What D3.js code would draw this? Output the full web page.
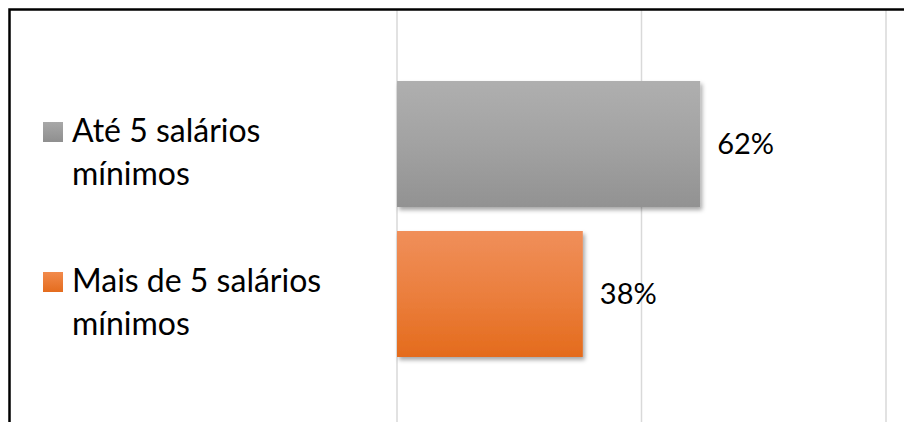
<!DOCTYPE html>
<html>
<head>
<meta charset="utf-8">
<script src="https://cdn.jsdelivr.net/npm/d3@7"></script>
<style>
  body { margin: 0; background: #fff; }
  svg { display: block; font-family: Lato, "Open Sans", sans-serif; }
</style>
</head>
<body>
<script>
// data
const categories = ["Até 5 salários mínimos", "Mais de 5 salários mínimos"];
const legendLines = [["Até 5 salários", "mínimos"], ["Mais de 5 salários", "mínimos"]];
const values = [0.62, 0.38];
const gridTicks = [0, 0.5, 1];

const W = 904, H = 422;
const svg = d3.select("body").append("svg")
  .attr("width", W)
  .attr("height", H);

const defs = svg.append("defs");

// gradients like the office style bars
const grads = [
  { id: "g0", top: "#afafaf", bottom: "#929292" },
  { id: "g1", top: "#f08f5a", bottom: "#e46b1c" }
];
grads.forEach(g => {
  const lg = defs.append("linearGradient")
    .attr("id", g.id)
    .attr("x1", 0).attr("y1", 0).attr("x2", 0).attr("y2", 1);
  lg.append("stop").attr("offset", "0%").attr("stop-color", g.top);
  lg.append("stop").attr("offset", "50%").attr("stop-color", d3.interpolateRgb(g.top, g.bottom)(0.45));
  lg.append("stop").attr("offset", "100%").attr("stop-color", g.bottom);
});
const legendGrads = [
  { id: "lg0", top: "#a8a8a8", bottom: "#8f8f8f" },
  { id: "lg1", top: "#f28a4c", bottom: "#e46c1e" }
];
legendGrads.forEach(g => {
  const lg = defs.append("linearGradient")
    .attr("id", g.id)
    .attr("x1", 0).attr("y1", 0).attr("x2", 0).attr("y2", 1);
  lg.append("stop").attr("offset", "0%").attr("stop-color", g.top);
  lg.append("stop").attr("offset", "100%").attr("stop-color", g.bottom);
});

const shadow = defs.append("filter")
  .attr("id", "shadow")
  .attr("x", "-10%").attr("y", "-10%")
  .attr("width", "130%").attr("height", "130%");
shadow.append("feDropShadow")
  .attr("dx", 2).attr("dy", 3)
  .attr("stdDeviation", 2.2)
  .attr("flood-color", "#000")
  .attr("flood-opacity", 0.35);

// scales
const x = d3.scaleLinear().domain([0, 1]).range([397, 886]);
const y = d3.scaleBand()
  .domain(categories)
  .range([69, 369])
  .paddingInner(0.16)
  .paddingOuter(0.08);

// gridlines
svg.append("g")
  .selectAll("line")
  .data(gridTicks)
  .join("line")
  .attr("x1", d => x(d)).attr("x2", d => x(d))
  .attr("y1", 10).attr("y2", H)
  .attr("stroke", "#d9d9d9")
  .attr("stroke-width", 1.5);

// bars
svg.append("g")
  .selectAll("rect")
  .data(categories)
  .join("rect")
  .attr("x", x(0))
  .attr("y", d => y(d))
  .attr("width", (d, i) => x(values[i]) - x(0))
  .attr("height", y.bandwidth())
  .attr("fill", (d, i) => `url(#g${i})`)
  .attr("filter", "url(#shadow)");

// value labels
svg.append("g")
  .selectAll("text")
  .data(categories)
  .join("text")
  .attr("x", (d, i) => x(values[i]) + 17)
  .attr("y", d => y(d) + y.bandwidth() / 2)
  .attr("dy", "0.35em")
  .attr("font-size", 29)
  .attr("fill", "#000")
  .text((d, i) => d3.format(".0%")(values[i]));

// legend
const legend = svg.append("g");
const legendY = [142, 292];
legendLines.forEach((lines, i) => {
  const g = legend.append("g").attr("transform", `translate(43,${legendY[i]})`);
  g.append("rect")
    .attr("x", 0).attr("y", -20)
    .attr("width", 20).attr("height", 20)
    .attr("fill", `url(#lg${i})`);
  const t = g.append("text")
    .attr("x", 29)
    .attr("y", 0)
    .attr("font-size", 32)
    .attr("fill", "#000");
  lines.forEach((line, j) => {
    t.append("tspan")
      .attr("x", 29)
      .attr("y", j * 43)
      .text(line);
  });
});

// outer frame (right and bottom sides fall outside the picture)
svg.append("rect")
  .attr("x", 9.5).attr("y", 9.5)
  .attr("width", W + 20).attr("height", H + 20)
  .attr("fill", "none")
  .attr("stroke", "#000")
  .attr("stroke-width", 2.5);
</script>
</body>
</html>
